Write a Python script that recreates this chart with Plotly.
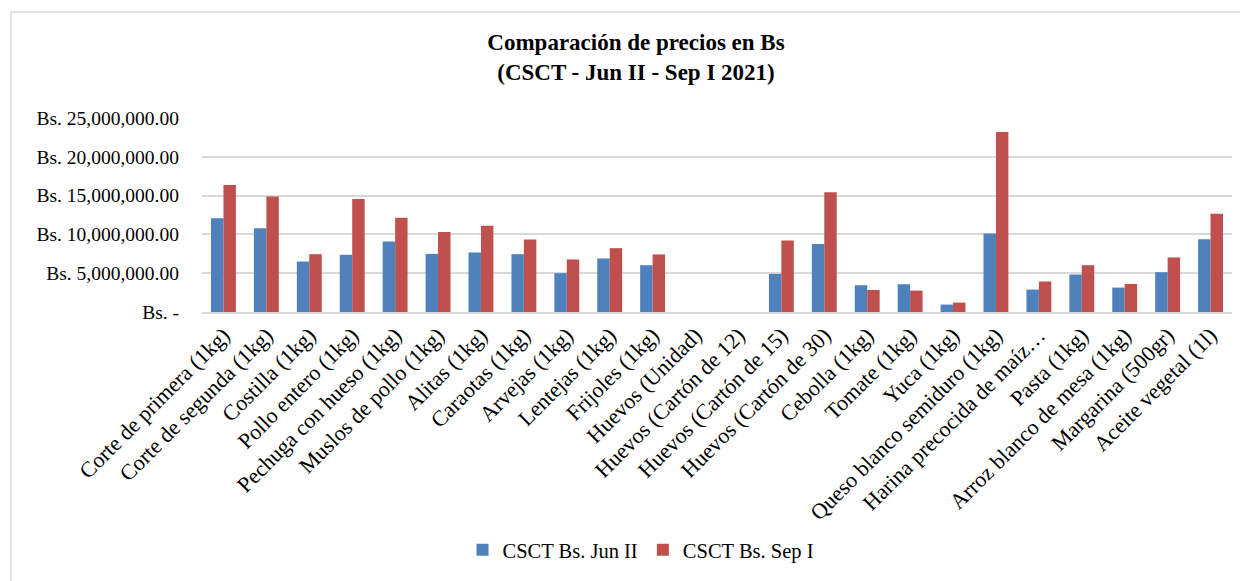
import plotly.graph_objects as go

categories = [
    "Corte de primera (1kg)", "Corte de segunda (1kg)", "Costilla (1kg)",
    "Pollo entero (1kg)", "Pechuga con hueso (1kg)", "Muslos de pollo (1kg)",
    "Alitas (1kg)", "Caraotas (1kg)", "Arvejas (1kg)", "Lentejas (1kg)",
    "Frijoles (1kg)", "Huevos (Unidad)", "Huevos (Cartón de 12)",
    "Huevos (Cartón de 15)", "Huevos (Cartón de 30)", "Cebolla (1kg)",
    "Tomate (1kg)", "Yuca (1kg)", "Queso blanco semiduro (1kg)",
    "Harina precocida de maíz…", "Pasta (1kg)", "Arroz blanco de mesa (1kg)",
    "Margarina (500gr)", "Aceite vegetal (1l)",
]
jun_ii = [12070000, 10780000, 6500000, 7370000, 9090000, 7490000, 7670000,
          7450000, 5000000, 6900000, 6030000, 0, 0, 4910000, 8750000,
          3450000, 3580000, 960000, 10130000, 2890000, 4830000, 3150000,
          5130000, 9390000]
sep_i = [16370000, 14900000, 7450000, 14560000, 12150000, 10300000, 11100000,
         9350000, 6770000, 8230000, 7420000, 0, 0, 9220000, 15420000,
         2840000, 2760000, 1210000, 23200000, 3930000, 6030000, 3620000,
         7030000, 12660000]
series_names = ["CSCT Bs. Jun II", "CSCT Bs. Sep I"]
y_tickvals = [0, 5000000, 10000000, 15000000, 20000000, 25000000]
y_ticktext = ["Bs. -", "Bs. 5,000,000.00", "Bs. 10,000,000.00",
              "Bs. 15,000,000.00", "Bs. 20,000,000.00", "Bs. 25,000,000.00"]

# page has an 8px body margin; work in figure coordinates
W, H = 1240, 573
L, R, T, B = 194, 1224, 110, 304
FONT = "Liberation Serif"

fig = go.Figure()
fig.add_trace(go.Bar(x=categories, y=jun_ii, name=series_names[0],
                     marker=dict(color="#4F81BD", line=dict(width=0))))
fig.add_trace(go.Bar(x=categories, y=sep_i, name=series_names[1],
                     marker=dict(color="#C0504D", line=dict(width=0))))

pw, ph = R - L, B - T
def px2x(p):
    return (p - L) / pw
def px2y(p):
    return (B - p) / ph

fig.update_layout(
    width=W, height=H,
    margin=dict(l=L, r=W - R, t=T, b=H - B, pad=0, autoexpand=False),
    paper_bgcolor="white", plot_bgcolor="white",
    font=dict(family=FONT, color="#000000", size=16),
    barmode="group", bargap=0.42, bargroupgap=0,
    title=dict(text="<b>Comparación de precios en Bs<br>(CSCT - Jun II - Sep I 2021)</b>",
               x=628 / W, xanchor="center", xref="container",
               y=1 - 42 / H, yanchor="middle", yref="container",
               font=dict(family=FONT, size=23, color="#000000")),
    legend=dict(orientation="h", x=633 / W, xanchor="center", xref="container",
                y=1 - 542 / H, yanchor="middle", yref="container",
                font=dict(family=FONT, size=20.5, color="#000000"),
                itemwidth=30, tracegroupgap=0),
    xaxis=dict(tickangle=-45, showgrid=False, showline=True, linecolor="#D9D9D9",
               linewidth=1.5, ticks="", automargin=False,
               tickfont=dict(family=FONT, size=22, color="#000000")),
    yaxis=dict(range=[0, 25000000], tickvals=y_tickvals, ticktext=y_ticktext,
               showgrid=True, gridcolor="#D9D9D9", gridwidth=1.5,
               zeroline=False, showline=False, ticks="", automargin=False,
               ticklabelstandoff=22,
               tickfont=dict(family=FONT, size=19.5, color="#000000")),
    shapes=[
        dict(type="line", xref="paper", yref="paper", x0=px2x(3), x1=px2x(3),
             y0=px2y(4), y1=px2y(H), line=dict(color="#D9D9D9", width=1.5)),
        dict(type="line", xref="paper", yref="paper", x0=px2x(3), x1=px2x(W),
             y0=px2y(4), y1=px2y(4), line=dict(color="#D9D9D9", width=1.5)),
    ],
)
fig.write_html("out.html")
